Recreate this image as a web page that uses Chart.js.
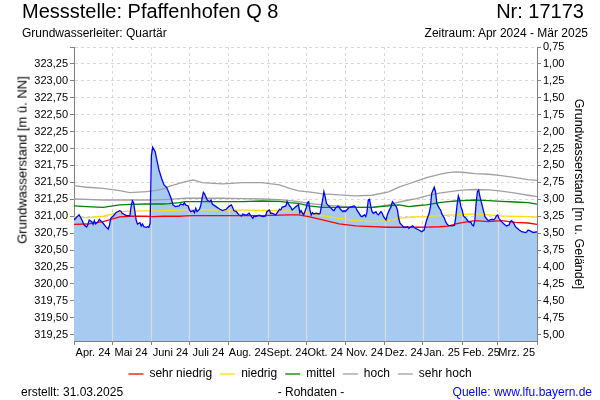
<!DOCTYPE html>
<html>
<head>
<meta charset="utf-8">
<script src="https://cdn.jsdelivr.net/npm/chart.js@4.4.1/dist/chart.umd.min.js"></script>
<style>
  html, body { margin: 0; padding: 0; background: #fff; }
  #wrap { position: relative; width: 600px; height: 400px; background: #fff; font-family: "Liberation Sans", Arial, sans-serif; color: #000; overflow: hidden; }
  #wrap canvas { position: absolute; left: 0; top: 0; }
  .t { position: absolute; white-space: nowrap; }
</style>
</head>
<body>
<div id="wrap">
  <canvas id="c" width="600" height="400"></canvas>
  <div class="t" style="left:22px;top:0px;font-size:20px;line-height:22px;">Messstelle: Pfaffenhofen Q 8</div>
  <div class="t" style="right:16px;top:0px;font-size:20px;line-height:22px;">Nr: 17173</div>
  <div class="t" style="left:22px;top:26px;font-size:12px;line-height:14px;">Grundwasserleiter: Quartär</div>
  <div class="t" style="right:12px;top:26px;font-size:12px;line-height:14px;">Zeitraum: Apr 2024 - Mär 2025</div>
  <div class="t" style="left:22px;top:160px;font-size:13px;line-height:15px;transform:translate(-50%,-50%) rotate(-90deg);">Grundwasserstand [m ü. NN]</div>
  <div class="t" style="left:21px;top:385px;font-size:12px;line-height:14px;">erstellt:</div>
  <div class="t" style="left:63px;top:385px;font-size:12px;line-height:14px;">31.03.2025</div>
  <div class="t" style="left:311px;top:385px;font-size:12px;line-height:14px;transform:translateX(-50%);">- Rohdaten -</div>
  <div class="t" style="right:8px;top:385px;font-size:12px;line-height:14px;color:#0000ff;">Quelle: www.lfu.bayern.de</div>
</div>
<script>
// ---------- data ----------
const monthStartDays = [0, 30, 61, 91, 122, 153, 183, 214, 245, 275, 306, 334, 365];
const monthLabels = ['Apr. 24', 'Mai 24', 'Juni 24', 'Juli 24', 'Aug. 24', 'Sept. 24', 'Okt. 24', 'Nov. 24', 'Dez. 24', 'Jan. 25', 'Feb. 25', 'Mrz. 25'];

const leftTickLabels = ['319,25','319,50','319,75','320,00','320,25','320,50','320,75','321,00','321,25','321,50','321,75','322,00','322,25','322,50','322,75','323,00','323,25'];
const rightTickLabels = ['0,75','1,00','1,25','1,50','1,75','2,00','2,25','2,50','2,75','3,00','3,25','3,50','3,75','4,00','4,25','4,50','4,75','5,00'];

// Grundwasserstand [m ü. NN] (days since 1 Apr 2024)
const levelDays = [0,4,6,8,10,11,12,14,15,16,17,19,20,21,23,25,27,28,29,31,33,36,37,38,41,44,45,46,47,48,49,50,52,53,54,55,57,58,59,60,61,62,64,65,67,69,71,73,75,77,78,80,83,84,86,87,88,90,91,92,94,95,96,97,99,100,101,102,103,105,107,108,109,112,115,117,120,122,124,125,126,128,130,132,133,136,138,141,142,143,146,149,151,152,154,155,156,159,162,163,164,167,168,170,171,172,175,177,178,179,180,181,183,184,185,186,187,188,189,191,193,194,196,197,198,199,200,202,204,205,206,208,209,210,212,213,214,215,217,219,221,222,223,225,226,227,229,230,231,232,233,234,235,236,238,239,240,242,243,244,246,247,248,250,251,252,254,255,256,257,259,260,261,263,264,265,267,268,269,272,274,276,277,278,280,281,282,284,285,286,288,289,290,292,293,294,295,298,300,301,302,303,304,305,306,307,309,311,313,314,315,316,317,318,319,320,322,323,324,326,327,328,330,331,332,333,334,335,337,339,340,341,343,344,345,347,348,351,353,356,357,358,360,362,365];
const levelValues = [320.945,321.02,320.955,320.87,320.84,320.88,320.945,320.92,320.88,320.935,320.886,320.92,320.955,320.935,320.896,320.846,320.812,320.871,320.97,321.004,321.053,321.083,321.074,321.044,321.014,321.004,321.142,321.23,321.2,321.068,320.945,320.886,320.905,320.856,320.886,320.846,320.837,320.846,320.837,320.896,321.891,322.02,321.954,321.857,321.684,321.561,321.462,321.428,321.339,321.24,321.167,321.142,321.152,321.181,321.167,321.2,321.167,321.152,321.093,321.068,321.083,321.053,321.117,321.068,321.103,321.167,321.266,321.354,321.329,321.24,321.215,321.24,321.181,321.142,321.103,321.083,321.103,321.142,321.167,321.132,321.083,321.068,321.019,321.004,321.034,321.014,321.044,320.97,321.004,320.994,321.014,320.994,321.004,321.068,321.093,321.044,321.044,321.019,321.103,321.093,321.132,321.152,321.215,321.15,321.132,321.093,321.142,321.17,321.05,321.083,321.044,321.019,321.117,321.2,321.215,321.093,321.019,321.053,321.034,321.044,321.034,321.044,321.24,321.363,321.29,321.191,321.167,321.132,321.093,321.083,321.117,321.152,321.142,321.103,321.068,321.083,321.068,321.093,321.132,321.142,321.152,321.132,321.093,321.034,321.004,320.994,321.019,320.994,321.068,321.24,321.25,321.142,321.068,321.044,321.068,321.034,321.019,321.068,321.044,320.994,320.945,321.019,321.068,321.142,321.215,321.191,321.142,321.093,320.97,320.896,320.857,320.837,320.837,320.846,320.822,320.837,320.857,320.837,320.822,320.797,320.772,320.797,320.871,320.945,321.044,321.142,321.339,321.428,321.363,321.191,321.117,321.093,321.034,320.97,320.92,320.886,320.866,320.857,320.866,320.994,321.167,321.3,321.24,321.142,321.093,321.004,320.97,320.92,320.906,320.871,320.857,320.945,321.191,321.363,321.388,321.29,321.142,321.068,320.994,320.945,320.935,320.945,320.955,320.945,320.97,321.004,321.019,320.97,320.92,320.886,320.871,320.857,320.871,320.92,320.935,320.886,320.846,320.797,320.772,320.758,320.772,320.797,320.78,320.76,320.77];

// reference levels (same day grid for all five)
const refDays = [0,10,23,36,44,57,62,70,75,83,88,94,101,110,117,133,148,162,170,177,185,196,209,222,235,248,256,264,270,278,288,295,301,306,316,327,337,348,358,365];
const sehrNiedrig = [320.88,320.885,320.92,320.99,321.0,321.0,320.995,321.0,321.0,321.0,321.005,321.01,321.01,321.01,321.01,321.01,321.01,321.015,321.02,321.02,320.995,320.945,320.886,320.857,320.846,320.837,320.837,320.837,320.837,320.84,320.845,320.855,320.886,320.906,320.935,320.92,320.935,320.91,320.9,320.88];
const niedrig = [320.985,320.98,321.0,321.06,321.075,321.078,321.078,321.08,321.085,321.09,321.093,321.093,321.093,321.093,321.09,321.09,321.085,321.08,321.075,321.068,321.044,321.01,320.97,320.935,320.92,320.935,320.97,320.985,320.99,320.995,321.01,321.015,321.019,321.025,321.034,321.019,321.004,320.998,320.994,320.985];
const mittel = [321.152,321.142,321.13,321.167,321.175,321.181,321.181,321.181,321.185,321.2,321.215,321.215,321.215,321.215,321.215,321.215,321.225,321.22,321.2,321.19,321.152,321.132,321.132,321.132,321.132,321.152,321.167,321.142,321.155,321.167,321.2,321.215,321.225,321.23,321.24,321.23,321.22,321.21,321.2,321.18];
const hoch = [321.255,321.25,321.24,321.24,321.24,321.24,321.24,321.245,321.25,321.26,321.266,321.266,321.266,321.266,321.266,321.26,321.255,321.245,321.23,321.215,321.19,321.167,321.15,321.132,321.132,321.167,321.21,321.24,321.26,321.3,321.34,321.36,321.375,321.385,321.395,321.39,321.37,321.34,321.31,321.29];
const sehrHoch = [321.452,321.428,321.413,321.378,321.35,321.363,321.375,321.4,321.44,321.487,321.51,321.536,321.496,321.485,321.477,321.496,321.496,321.462,321.41,321.375,321.36,321.33,321.315,321.3,321.31,321.36,321.43,321.48,321.52,321.57,321.62,321.645,321.655,321.65,321.63,321.62,321.6,321.57,321.54,321.53];

const seriesNames = ['sehr niedrig', 'niedrig', 'mittel', 'hoch', 'sehr hoch'];
const seriesColors = ['#ff0000', '#ffdd00', '#008000', '#a0a0a0', '#a0a0a0'];
const refSeries = [sehrNiedrig, niedrig, mittel, hoch, sehrHoch];

const groundLevel = 324.25; // m ü. NN, Bezug der rechten Achse
const leftMin = 319.157, leftMax = 323.5;

// ---------- build ----------
const pts = (xs, ys) => xs.map((x, i) => ({x: x, y: ys[i]}));
const parseNum = s => parseFloat(s.replace(',', '.'));

const datasets = [];
datasets.push({ label: 'Messwert', data: pts(levelDays, levelValues), borderColor: '#0000ff', borderWidth: 1.3, pointRadius: 0, fill: false, tension: 0, yAxisID: 'y' });
refSeries.forEach((s, i) => datasets.push({ label: seriesNames[i], data: pts(refDays, s), borderColor: seriesColors[i], backgroundColor: seriesColors[i], borderWidth: 1.3, pointRadius: 0, fill: false, tension: 0, yAxisID: 'y' }));
const FILL_INDEX = datasets.length;
datasets.push({ label: 'Fläche', data: pts(levelDays, levelValues), borderColor: 'rgba(0,0,0,0)', borderWidth: 0, backgroundColor: '#a6caf0', pointRadius: 0, fill: 'start', tension: 0, yAxisID: 'y' });

const fillGridPlugin = {
  id: 'fillGrid',
  afterDatasetDraw(chart, args) {
    if (args.index !== FILL_INDEX) return;
    const p = args.meta.data, ca = chart.chartArea, ctx = chart.ctx, xs = chart.scales.x;
    ctx.save();
    ctx.beginPath();
    ctx.moveTo(p[0].x, ca.bottom);
    p.forEach(q => ctx.lineTo(q.x, q.y));
    ctx.lineTo(p[p.length - 1].x, ca.bottom);
    ctx.closePath();
    ctx.clip();
    ctx.strokeStyle = '#dcdcdc';
    ctx.lineWidth = 1.2;
    monthStartDays.slice(1, -1).forEach(d => {
      const x = Math.round(xs.getPixelForValue(d)) + 0.5;
      ctx.beginPath(); ctx.moveTo(x, ca.top); ctx.lineTo(x, ca.bottom); ctx.stroke();
    });
    ctx.restore();
  }
};

Chart.defaults.font.family = '"Liberation Sans", Arial, sans-serif';
Chart.defaults.color = '#000';

new Chart(document.getElementById('c'), {
  type: 'line',
  data: { datasets },
  plugins: [fillGridPlugin],
  options: {
    responsive: false, animation: false, devicePixelRatio: 1,
    layout: { padding: { left: 0, right: 0, top: 47, bottom: 10 } },
    plugins: {
      tooltip: { enabled: false },
      legend: {
        position: 'bottom',
        labels: {
          usePointStyle: true, pointStyle: 'line', pointStyleWidth: 15, boxHeight: 8,
          padding: 8, color: '#000', font: { size: 12 },
          filter: item => item.datasetIndex >= 1 && item.datasetIndex < FILL_INDEX
        }
      }
    },
    scales: {
      x: {
        type: 'linear', min: monthStartDays[0], max: monthStartDays[monthStartDays.length - 1],
        afterBuildTicks: s => { s.ticks = monthStartDays.map(v => ({value: v})); },
        afterFit: s => { s.height = 19; },
        grid: { color: '#d8d8d8', lineWidth: 1, tickColor: '#808080', tickLength: 4, tickBorderDash: [] },
        border: { color: '#808080', dash: [3, 3] },
        ticks: { autoSkip: false, maxRotation: 0, minRotation: 0, padding: 1, labelOffset: 19, font: { size: 11 },
          callback: (v, i) => monthLabels[i] !== undefined ? monthLabels[i] : '' }
      },
      y: {
        type: 'linear', position: 'left', min: leftMin, max: leftMax,
        afterBuildTicks: s => { s.ticks = leftTickLabels.map(t => ({value: parseNum(t)})).concat([{value: leftMax}]); },
        afterFit: s => { s.width = 74; },
        grid: { color: '#d8d8d8', lineWidth: 1, tickColor: '#808080', tickLength: 4, tickBorderDash: [] },
        border: { color: '#808080', dash: [3, 3] },
        ticks: { padding: 2, font: { size: 11 }, callback: (v, i) => leftTickLabels[i] !== undefined ? leftTickLabels[i] : '' }
      },
      y2: {
        type: 'linear', position: 'right', reverse: true,
        min: groundLevel - leftMax, max: groundLevel - leftMin,
        afterBuildTicks: s => { s.ticks = rightTickLabels.map(t => ({value: parseNum(t)})); },
        afterFit: s => { s.width = 63; },
        grid: { drawOnChartArea: false, tickColor: '#808080', tickLength: 4 },
        border: { color: '#808080' },
        ticks: { padding: 2, font: { size: 11 }, callback: (v, i) => rightTickLabels[i] },
        title: { display: true, text: 'Grundwasserstand [m u. Gelände]', font: { size: 12.5 }, padding: { top: 14, bottom: 0 }, color: '#000' }
      }
    }
  }
});
</script>
</body>
</html>
